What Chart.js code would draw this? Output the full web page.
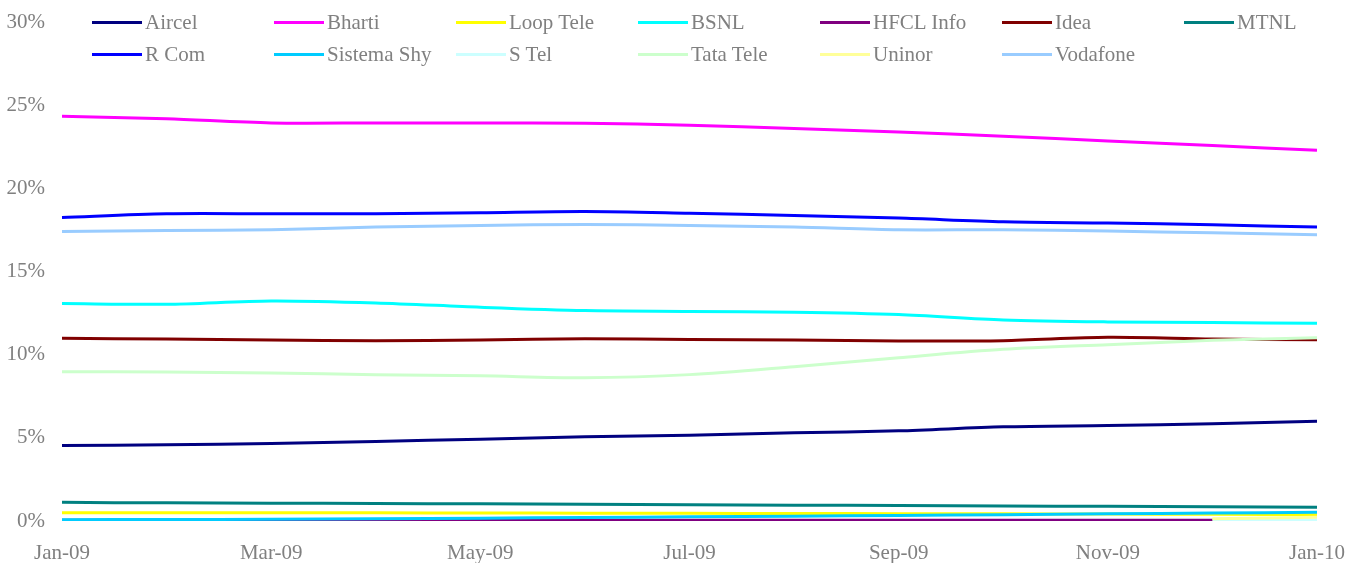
<!DOCTYPE html>
<html>
<head>
<meta charset="utf-8">
<script src="https://cdn.jsdelivr.net/npm/chart.js@4"></script>
<style>
  html, body { margin: 0; padding: 0; background: #fff; }
  #wrap { position: relative; width: 1347px; height: 563px; }
  #legend { position: absolute; left: 0; top: 0; font-family: "Liberation Serif", serif; font-size: 21px; color: #808080; }
  .item { position: absolute; display: flex; align-items: center; white-space: nowrap; }
  .swatch { width: 50px; height: 3px; margin-right: 3px; }
</style>
</head>
<body>
<div id="wrap">
  <canvas id="chart" width="1347" height="563"></canvas>
  <div id="legend"></div>
</div>
<script>
// Months on the x axis
const months = ['Jan-09','Feb-09','Mar-09','Apr-09','May-09','Jun-09','Jul-09','Aug-09','Sep-09','Oct-09','Nov-09','Dec-09','Jan-10'];
const yTicks = [0, 5, 10, 15, 20, 25, 30];

// Market share (%) per operator
const aircel   = [4.54, 4.58, 4.66, 4.78, 4.92, 5.06, 5.16, 5.30, 5.42, 5.66, 5.74, 5.84, 6.00];
const bharti   = [24.34, 24.18, 23.93, 23.93, 23.93, 23.92, 23.80, 23.60, 23.39, 23.13, 22.85, 22.57, 22.29];
const loopTele = [0.50, 0.50, 0.50, 0.49, 0.48, 0.47, 0.46, 0.45, 0.44, 0.43, 0.42, 0.40, 0.38];
const bsnl     = [13.07, 13.03, 13.23, 13.11, 12.85, 12.65, 12.60, 12.55, 12.41, 12.09, 11.97, 11.93, 11.89];
const hfcl     = [0.05, 0.05, 0.05, 0.05, 0.05, 0.05, 0.05, 0.05, 0.05, 0.05, 0.05, 0.04, 0.02];
const idea     = [10.98, 10.94, 10.88, 10.84, 10.88, 10.96, 10.91, 10.88, 10.82, 10.84, 11.04, 10.94, 10.90];
const mtnl     = [1.12, 1.09, 1.07, 1.05, 1.03, 1.01, 0.97, 0.95, 0.93, 0.90, 0.88, 0.85, 0.83];
const rcom     = [18.25, 18.47, 18.47, 18.47, 18.53, 18.60, 18.50, 18.37, 18.21, 17.99, 17.91, 17.81, 17.67];
const sistema  = [0.08, 0.09, 0.10, 0.13, 0.17, 0.21, 0.25, 0.29, 0.33, 0.38, 0.43, 0.48, 0.52];
const sTel     = [null, null, null, null, null, null, null, null, null, null, null, 0.05, 0.05];
const tataTele = [8.98, 8.96, 8.90, 8.80, 8.73, 8.61, 8.80, 9.28, 9.82, 10.32, 10.60, 10.86, 11.02];
const uninor   = [null, null, null, null, null, null, null, null, null, null, null, 0.14, 0.22];
const vodafone = [17.41, 17.47, 17.51, 17.67, 17.77, 17.83, 17.76, 17.67, 17.51, 17.51, 17.43, 17.33, 17.21];

const names  = ['Aircel','Bharti','Loop Tele','BSNL','HFCL Info','Idea','MTNL','R Com','Sistema Shy','S Tel','Tata Tele','Uninor','Vodafone'];
const series = [aircel, bharti, loopTele, bsnl, hfcl, idea, mtnl, rcom, sistema, sTel, tataTele, uninor, vodafone];
const colors = ['#000080','#FF00FF','#FFFF00','#00FFFF','#800080','#800000','#008080','#0000FF','#00CCFF','#CCFFFF','#CCFFCC','#FFFF99','#99CCFF'];

const FONT = { family: '"Liberation Serif", serif', size: 21 };

const datasets = names.map((n, i) => ({
  label: n,
  data: series[i],
  borderColor: colors[i],
  backgroundColor: colors[i],
  borderWidth: 3,
  pointRadius: 0,
  tension: 0.3,
  fill: false,
  order: names.length - i   // later series on top, like the original
}));

new Chart(document.getElementById('chart'), {
  type: 'line',
  data: { labels: months, datasets },
  options: {
    responsive: false,
    animation: false,
    layout: { padding: { top: 22, right: 30, bottom: 0, left: 0 } },
    plugins: { legend: { display: false }, tooltip: { enabled: false } },
    scales: {
      // tick padding is added to label overhang in chart.js, so use (hidden) tickLength for spacing instead
      x: {
        grid: { display: false, drawTicks: true, tickLength: 20 },
        border: { display: false },
        ticks: {
          color: '#808080', font: FONT, padding: 0, autoSkip: false, maxRotation: 0,
          callback: (v, i) => i % 2 === 0 ? months[i] : ''
        },
        afterFit: s => { s.height = 42; }
      },
      y: {
        min: yTicks[0], max: yTicks[yTicks.length - 1],
        grid: { display: false, drawTicks: true, tickLength: 17 },
        border: { display: false },
        ticks: { color: '#808080', font: FONT, padding: 0, stepSize: 5, callback: v => v + '%' },
        afterFit: s => { s.width = 62; }
      }
    }
  }
});

// Legend: two rows laid over the top of the plot
const legend = document.getElementById('legend');
names.forEach((n, i) => {
  const col = i % 7, row = Math.floor(i / 7);
  const el = document.createElement('div');
  el.className = 'item';
  el.style.left = (92 + 182 * col) + 'px';
  el.style.top = (22 + 32 * row - 12) + 'px';
  el.innerHTML = `<span class="swatch" style="background:${colors[i]}"></span><span>${n}</span>`;
  legend.appendChild(el);
});
</script>
</body>
</html>
